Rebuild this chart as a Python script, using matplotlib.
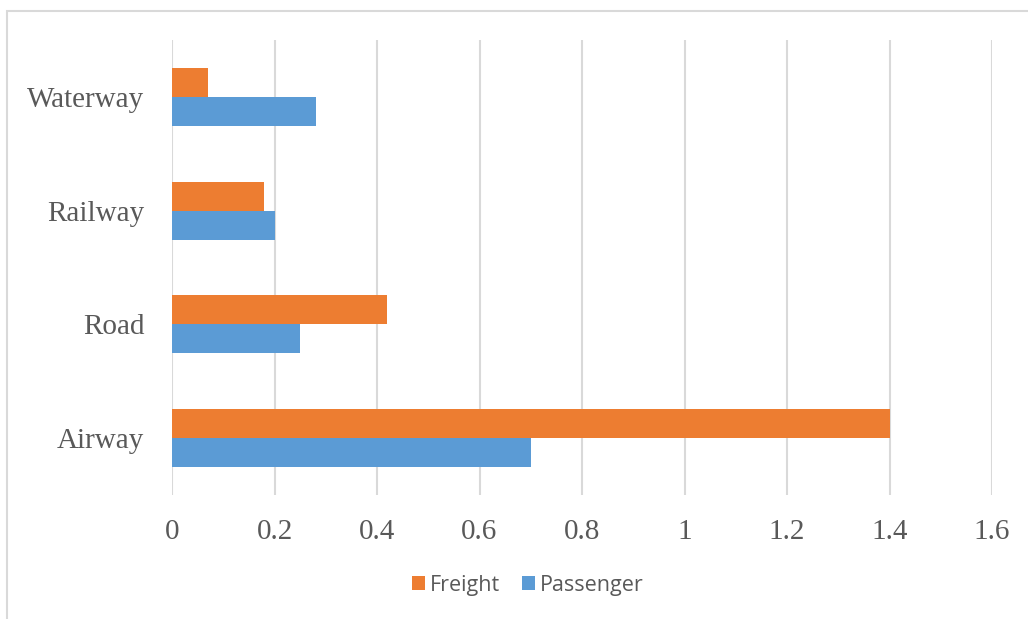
import matplotlib
matplotlib.use("Agg")
import matplotlib.pyplot as plt
from matplotlib.patches import Rectangle, Patch
import numpy as np

# Transport modes, listed bottom to top
categories = ["Airway", "Road", "Railway", "Waterway"]
freight = [1.4, 0.42, 0.18, 0.07]
passenger = [0.7, 0.25, 0.2, 0.28]
xticks = [0, 0.2, 0.4, 0.6, 0.8, 1.0, 1.2, 1.4, 1.6]
xtick_labels = ["0", "0.2", "0.4", "0.6", "0.8", "1", "1.2", "1.4", "1.6"]

ORANGE = "#ED7D31"
BLUE = "#5B9BD5"
GRID = "#D9D9D9"
TEXT = "#595959"

fig = plt.figure(figsize=(10.28, 6.19), dpi=100)
fig.patch.set_facecolor("white")

# outer chart-area border
fig.add_artist(Rectangle((7 / 1028, -0.05), 1.2, 1 - 11 / 619 + 0.05,
                         transform=fig.transFigure, fill=False,
                         edgecolor=GRID, linewidth=1.5))

ax = fig.add_axes([172 / 1028, 1 - 495 / 619, (992 - 172) / 1028, (495 - 40) / 619])

y = np.arange(len(categories))
h = 0.255
ax.barh(y + h / 2, freight, height=h, color=ORANGE, label="Freight", zorder=3)
ax.barh(y - h / 2, passenger, height=h, color=BLUE, label="Passenger", zorder=3)

ax.set_xlim(0, 1.6)
ax.set_ylim(-0.5, len(categories) - 0.5)
ax.set_xticks(xticks)
ax.set_xticklabels(xtick_labels)
ax.set_yticks(y)
ax.set_yticklabels(categories)

for s in ax.spines.values():
    s.set_visible(False)
ax.grid(axis="x", color=GRID, linewidth=1.5, zorder=0)
ax.set_axisbelow(True)
ax.tick_params(axis="both", length=0, colors=TEXT, labelsize=21)
ax.tick_params(axis="x", pad=17)
ax.tick_params(axis="y", pad=20)
for lbl in ax.get_xticklabels() + ax.get_yticklabels():
    lbl.set_fontfamily("Liberation Serif")

handles = [Patch(facecolor=ORANGE, label="Freight"),
           Patch(facecolor=BLUE, label="Passenger")]
leg = fig.legend(handles=handles, loc="center", bbox_to_anchor=(528 / 1028, 1 - 585 / 619),
                 ncol=2, frameon=False, prop={"family": "Open Sans", "size": 15.5},
                 handlelength=0.6, handleheight=0.6, handletextpad=0.25,
                 columnspacing=1.0)
for t in leg.get_texts():
    t.set_color(TEXT)

fig.savefig("out.png", dpi=100, facecolor="white")
